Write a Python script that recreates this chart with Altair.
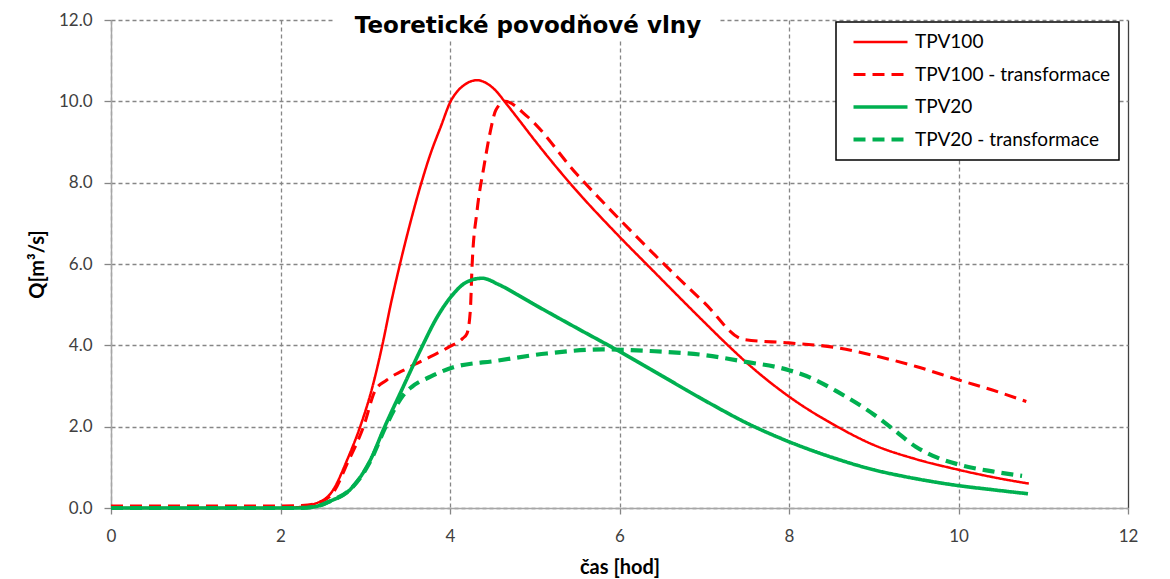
import altair as alt
import pandas as pd

TITLE = "Teoretické povodňové vlny"
X_TITLE = "čas [hod]"
Y_TITLE = "Q[m³/s]"
SERIES = ["TPV100", "TPV100 - transformace", "TPV20", "TPV20 - transformace"]
X_TICKS = [0, 2, 4, 6, 8, 10, 12]
Y_TICKS = [0, 2, 4, 6, 8, 10, 12]

t_tpv100 = [0, 1.0, 2.0, 2.2, 2.4, 2.6, 2.8, 2.94, 3.08, 3.2, 3.3, 3.41, 3.53, 3.66, 3.77,
            3.89, 4.01, 4.08, 4.16, 4.32, 4.45, 4.55, 4.65, 4.8, 5.0, 5.41, 6.0, 6.36, 7.0, 7.28,
            7.54, 8.0, 8.57, 9.0, 9.5, 10.0, 10.4, 10.83]
q_tpv100 = [0, 0, 0, 0.02, 0.1, 0.38, 1.25, 2.0, 2.94, 3.99, 5.0, 6.0, 7.0, 7.98, 8.71,
            9.37, 10.01, 10.23, 10.39, 10.52, 10.42, 10.24, 9.98, 9.58, 9.04, 8.0, 6.67, 5.91, 4.57, 4.0,
            3.5, 2.74, 2.0, 1.55, 1.2, 0.94, 0.76, 0.6]

t_tpv100t = [0, 0.5, 1.0, 1.5, 2.0, 2.25, 2.4, 2.6, 2.8, 2.98, 3.12, 3.25, 3.53, 3.77, 3.98,
             4.15, 4.2, 4.24, 4.26, 4.32, 4.4, 4.47, 4.54, 4.65, 4.91, 5.5, 6.0, 6.5,
             7.0, 7.47, 8.0, 8.57, 9.0, 9.5, 10.0, 10.4, 10.8]
q_tpv100t = [0.05, 0.05, 0.05, 0.05, 0.05, 0.06, 0.1, 0.32, 1.15, 2.0, 2.9, 3.14, 3.47, 3.72, 3.95,
             4.17, 4.29, 4.86, 5.93, 7.32, 8.39, 9.2, 9.78, 10.0, 9.63, 8.2, 7.1, 6.05,
             5.05, 4.14, 4.06, 3.94, 3.75, 3.48, 3.15, 2.9, 2.62]

t_tpv20 = [0, 1.0, 2.0, 2.2, 2.4, 2.6, 2.82, 3.06, 3.23, 3.43, 3.65, 3.85, 4.01, 4.2, 4.38,
           4.57, 4.8, 5.0, 5.5, 6.0, 6.5, 7.0, 7.54, 8.0, 8.5, 9.0, 9.5, 10.0, 10.4, 10.82]
q_tpv20 = [0, 0, 0, 0, 0.03, 0.18, 0.45, 1.18, 2.0, 2.9, 3.88, 4.7, 5.19, 5.56, 5.65,
           5.5, 5.24, 5.0, 4.42, 3.85, 3.25, 2.65, 2.05, 1.63, 1.25, 0.94, 0.72, 0.55, 0.45, 0.35]

t_tpv20t = [0, 1.0, 2.0, 2.2, 2.4, 2.6, 2.82, 3.06, 3.23, 3.35, 3.45, 3.55, 3.77, 4.04, 4.55,
            5.14, 5.8, 6.36, 7.0, 7.47, 8.0, 8.3, 8.57, 9.0, 9.24, 9.5, 9.75, 10.0, 10.4, 10.75]
q_tpv20t = [0, 0, 0, 0, 0.03, 0.18, 0.45, 1.15, 1.95, 2.45, 2.78, 2.98, 3.23, 3.46, 3.62,
            3.8, 3.9, 3.86, 3.76, 3.6, 3.39, 3.16, 2.86, 2.3, 1.92, 1.5, 1.24, 1.07, 0.9, 0.79]

COLORS = ["#ff0000", "#ff0000", "#00b050", "#00b050"]
DASHES = [[1, 0], [12, 7], [1, 0], [12, 7]]
WIDTHS = [2.5, 4.2, 2.2, 4.2]

rows = []
for name, ts, qs in [(SERIES[0], t_tpv100, q_tpv100), (SERIES[1], t_tpv100t, q_tpv100t),
                     (SERIES[2], t_tpv20, q_tpv20), (SERIES[3], t_tpv20t, q_tpv20t)]:
    for t, q in zip(ts, qs):
        rows.append({"series": name, "t": t, "q": q})
df = pd.DataFrame(rows)

FONT = "Lato"

x_axis = alt.Axis(
    values=X_TICKS, title=X_TITLE, grid=True,
    gridDash={"condition": {"test": "datum.value === 12", "value": [1, 0]}, "value": [4, 3]},
    gridColor={"condition": {"test": "datum.value === 12", "value": "#404040"}, "value": "#868686"},
    gridWidth=1.3, domainColor="#a6a6a6", domainWidth=1.5,
    tickColor="#868686", tickSize=6, tickWidth=1.3,
    labelFont=FONT, labelFontSize=17, labelColor="#404040", labelPadding=14, labelFlush=False,
    titleFont=FONT, titleFontSize=20, titleFontWeight="bold", titleColor="black", titlePadding=13,
)
y_axis = alt.Axis(
    values=Y_TICKS, format=".1f", title=Y_TITLE, grid=True,
    gridDash=[4, 3], gridColor="#868686", gridWidth=1.3,
    domainColor="#a6a6a6", domainWidth=1.5,
    tickColor="#868686", tickSize=7, tickWidth=1.3,
    labelFont=FONT, labelFontSize=17, labelColor="#404040", labelPadding=12, labelFlush=False,
    titleFont=FONT, titleFontSize=20, titleFontWeight="bold", titleColor="black", titlePadding=11,
)

lines = alt.Chart(df).mark_line(interpolate="monotone").encode(
    x=alt.X("t:Q", scale=alt.Scale(domain=[0, 12], nice=False), axis=x_axis),
    y=alt.Y("q:Q", scale=alt.Scale(domain=[0, 12], nice=False), axis=y_axis),
    color=alt.Color("series:N", scale=alt.Scale(domain=SERIES, range=COLORS), legend=alt.Legend(title=None)),
    strokeDash=alt.StrokeDash("series:N", scale=alt.Scale(domain=SERIES, range=DASHES), legend=alt.Legend(title=None)),
    strokeWidth=alt.StrokeWidth("series:N", scale=alt.Scale(domain=SERIES, range=WIDTHS), legend=alt.Legend(title=None)),
)

title_df = pd.DataFrame({"label": [TITLE]})
title_bg = alt.Chart(title_df).mark_rect(color="white").encode(
    x=alt.value(224), x2=alt.value(609), y=alt.value(-12), y2=alt.value(20)
)
title_text = alt.Chart(title_df).mark_text(
    font="DejaVu Sans", fontSize=23, fontWeight="bold", color="black", align="center", baseline="alphabetic"
).encode(x=alt.value(417), y=alt.value(13), text="label:N")

chart = alt.layer(title_bg, title_text, lines).properties(
    width=1017, height=488,
    padding={"left": 103, "top": 12, "right": 20, "bottom": 70},
    autosize=alt.AutoSizeParams(type="none"),
).configure_view(stroke="transparent").configure_legend(
    orient="none", legendX=725, legendY=2, padding=8,
    strokeColor="black", strokeWidth=1.5, fillColor="white", cornerRadius=0,
    symbolType="stroke", symbolSize=2916, clipHeight=24, rowPadding=8.5,
    symbolOffset=7, labelOffset=5,
    labelFont=FONT, labelFontSize=19, labelColor="black", labelLimit=400,
)

chart.save("out.html", embed_options={"renderer": "svg", "actions": False})
